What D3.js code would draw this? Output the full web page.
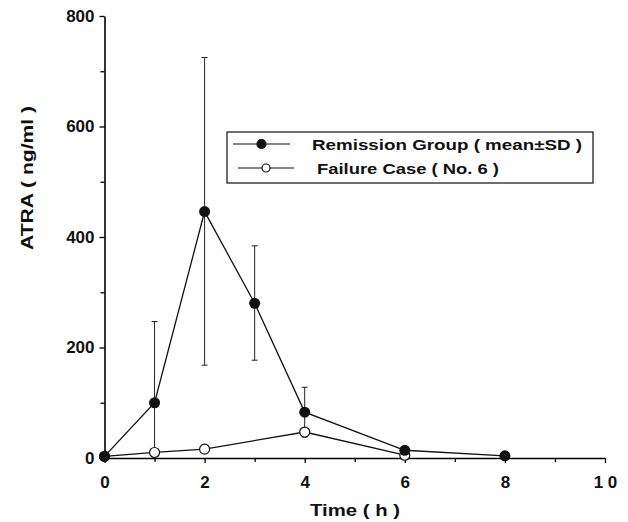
<!DOCTYPE html>
<html lang="en">
<head>
<meta charset="UTF-8">
<title>ATRA plasma concentration</title>
<script src="https://d3js.org/d3.v7.min.js"></script>
<style>
  body { margin: 0; background: #fff; }
  text { font-family: "Liberation Sans", Arial, sans-serif; font-weight: bold; fill: #111; }
</style>
</head>
<body>
<div id="chart"></div>
<script>
// data
var times = [0, 1, 2, 3, 4, 6, 8];
var remissionMean = [3, 100, 446, 280, 83, 14, 4];
var remissionUpper = [3, 247, 725, 384, 128, 14, 4];
var remissionLower = [3, 0, 168, 177, 38, 14, 4];
var failureTimes = [0, 1, 2, 4, 6];
var failureValues = [3, 10, 16, 47, 5];
var xTicks = [0, 2, 4, 6, 8, 10];
var yTicks = [0, 200, 400, 600, 800];
var seriesNames = ["Remission Group ( mean\u00b1SD )", "Failure Case ( No. 6 )"];

var width = 628, height = 522;
var svg = d3.select("#chart").append("svg")
    .attr("width", width)
    .attr("height", height);

var x = d3.scaleLinear().domain([0, 10]).range([104.5, 605]);
var y = d3.scaleLinear().domain([0, 800]).range([458, 16]);

// minor ticks
svg.append("g")
    .attr("transform", "translate(0," + y(0) + ")")
    .call(d3.axisBottom(x).tickValues([1, 3, 5, 7, 9]).tickSize(4).tickFormat(""))
    .call(function(g) { g.select(".domain").remove(); });
svg.append("g")
    .attr("transform", "translate(" + x(0) + ",0)")
    .call(d3.axisLeft(y).tickValues([100, 300, 500, 700]).tickSize(4).tickFormat(""))
    .call(function(g) { g.select(".domain").remove(); });

svg.append("g")
    .attr("transform", "translate(0," + y(0) + ")")
    .call(d3.axisBottom(x).tickValues(xTicks).tickSize(5).tickSizeOuter(0).tickPadding(13)
        .tickFormat(function(d) { return d === 10 ? "1 0" : d; }));
svg.append("g")
    .attr("transform", "translate(" + x(0) + ",0)")
    .call(d3.axisLeft(y).tickValues(yTicks).tickSize(5).tickSizeOuter(0).tickPadding(5));

svg.selectAll(".domain").attr("stroke-width", 1.6);
svg.selectAll(".tick line").attr("stroke-width", 1.3);
svg.selectAll(".tick text")
    .style("font-size", "17px")
    .style("font-family", "Liberation Sans, Arial, sans-serif")
    .style("font-weight", "bold");

svg.append("text")
    .attr("x", 355).attr("y", 516)
    .attr("text-anchor", "middle")
    .style("font-size", "17px")
    .attr("textLength", 90).attr("lengthAdjust", "spacingAndGlyphs")
    .text("Time ( h )");

svg.append("text")
    .attr("transform", "translate(33,178) rotate(-90)")
    .attr("text-anchor", "middle")
    .style("font-size", "17px")
    .attr("textLength", 144).attr("lengthAdjust", "spacingAndGlyphs")
    .text("ATRA  ( ng/ml )");

// error bars
var err = svg.append("g");
times.forEach(function(t, i) {
    if (remissionUpper[i] === remissionLower[i]) return;
    err.append("line")
        .attr("x1", x(t)).attr("x2", x(t))
        .attr("y1", y(remissionUpper[i])).attr("y2", y(remissionLower[i]))
        .attr("stroke", "#222").attr("stroke-width", 1);
    err.append("line")
        .attr("x1", x(t) - 3).attr("x2", x(t) + 3)
        .attr("y1", y(remissionUpper[i])).attr("y2", y(remissionUpper[i]))
        .attr("stroke", "#222").attr("stroke-width", 1);
    if (remissionLower[i] > 0) {
        err.append("line")
            .attr("x1", x(t) - 3).attr("x2", x(t) + 3)
            .attr("y1", y(remissionLower[i])).attr("y2", y(remissionLower[i]))
            .attr("stroke", "#222").attr("stroke-width", 1);
    }
});

var line = d3.line()
    .x(function(d) { return x(d[0]); })
    .y(function(d) { return y(d[1]); });

var failure = failureTimes.map(function(t, i) { return [t, failureValues[i]]; });
var remission = times.map(function(t, i) { return [t, remissionMean[i]]; });

svg.append("path").datum(failure)
    .attr("d", line).attr("fill", "none").attr("stroke", "#111").attr("stroke-width", 1.3);
svg.selectAll(".fpt").data(failure).enter().append("circle")
    .attr("cx", function(d) { return x(d[0]); })
    .attr("cy", function(d) { return y(d[1]); })
    .attr("r", 5).attr("fill", "#fff").attr("stroke", "#111").attr("stroke-width", 1.2);

svg.append("path").datum(remission)
    .attr("d", line).attr("fill", "none").attr("stroke", "#111").attr("stroke-width", 1.3);
svg.selectAll(".rpt").data(remission).enter().append("circle")
    .attr("cx", function(d) { return x(d[0]); })
    .attr("cy", function(d) { return y(d[1]); })
    .attr("r", 5.5).attr("fill", "#111");

// legend
var legend = svg.append("g");
legend.append("rect")
    .attr("x", 227).attr("y", 132).attr("width", 366).attr("height", 51)
    .attr("fill", "#fff").attr("stroke", "#222").attr("stroke-width", 1.3);
var legendWidths = [270, 182];
seriesNames.forEach(function(name, i) {
    var ly = 144 + i * 24;
    var lx0 = i === 0 ? 233 : 238, lx1 = i === 0 ? 290 : 294;
    legend.append("line")
        .attr("x1", lx0).attr("x2", lx1).attr("y1", ly).attr("y2", ly)
        .attr("stroke", "#111").attr("stroke-width", 1.1);
    legend.append("circle")
        .attr("cx", (lx0 + lx1) / 2).attr("cy", ly).attr("r", i === 0 ? 4.5 : 4)
        .attr("fill", i === 0 ? "#111" : "#fff").attr("stroke", "#111").attr("stroke-width", 1.2);
    legend.append("text")
        .attr("x", i === 0 ? 312 : 317).attr("y", ly + 5.5)
        .style("font-size", "15px")
        .attr("textLength", legendWidths[i]).attr("lengthAdjust", "spacingAndGlyphs")
        .text(name);
});
</script>
</body>
</html>
